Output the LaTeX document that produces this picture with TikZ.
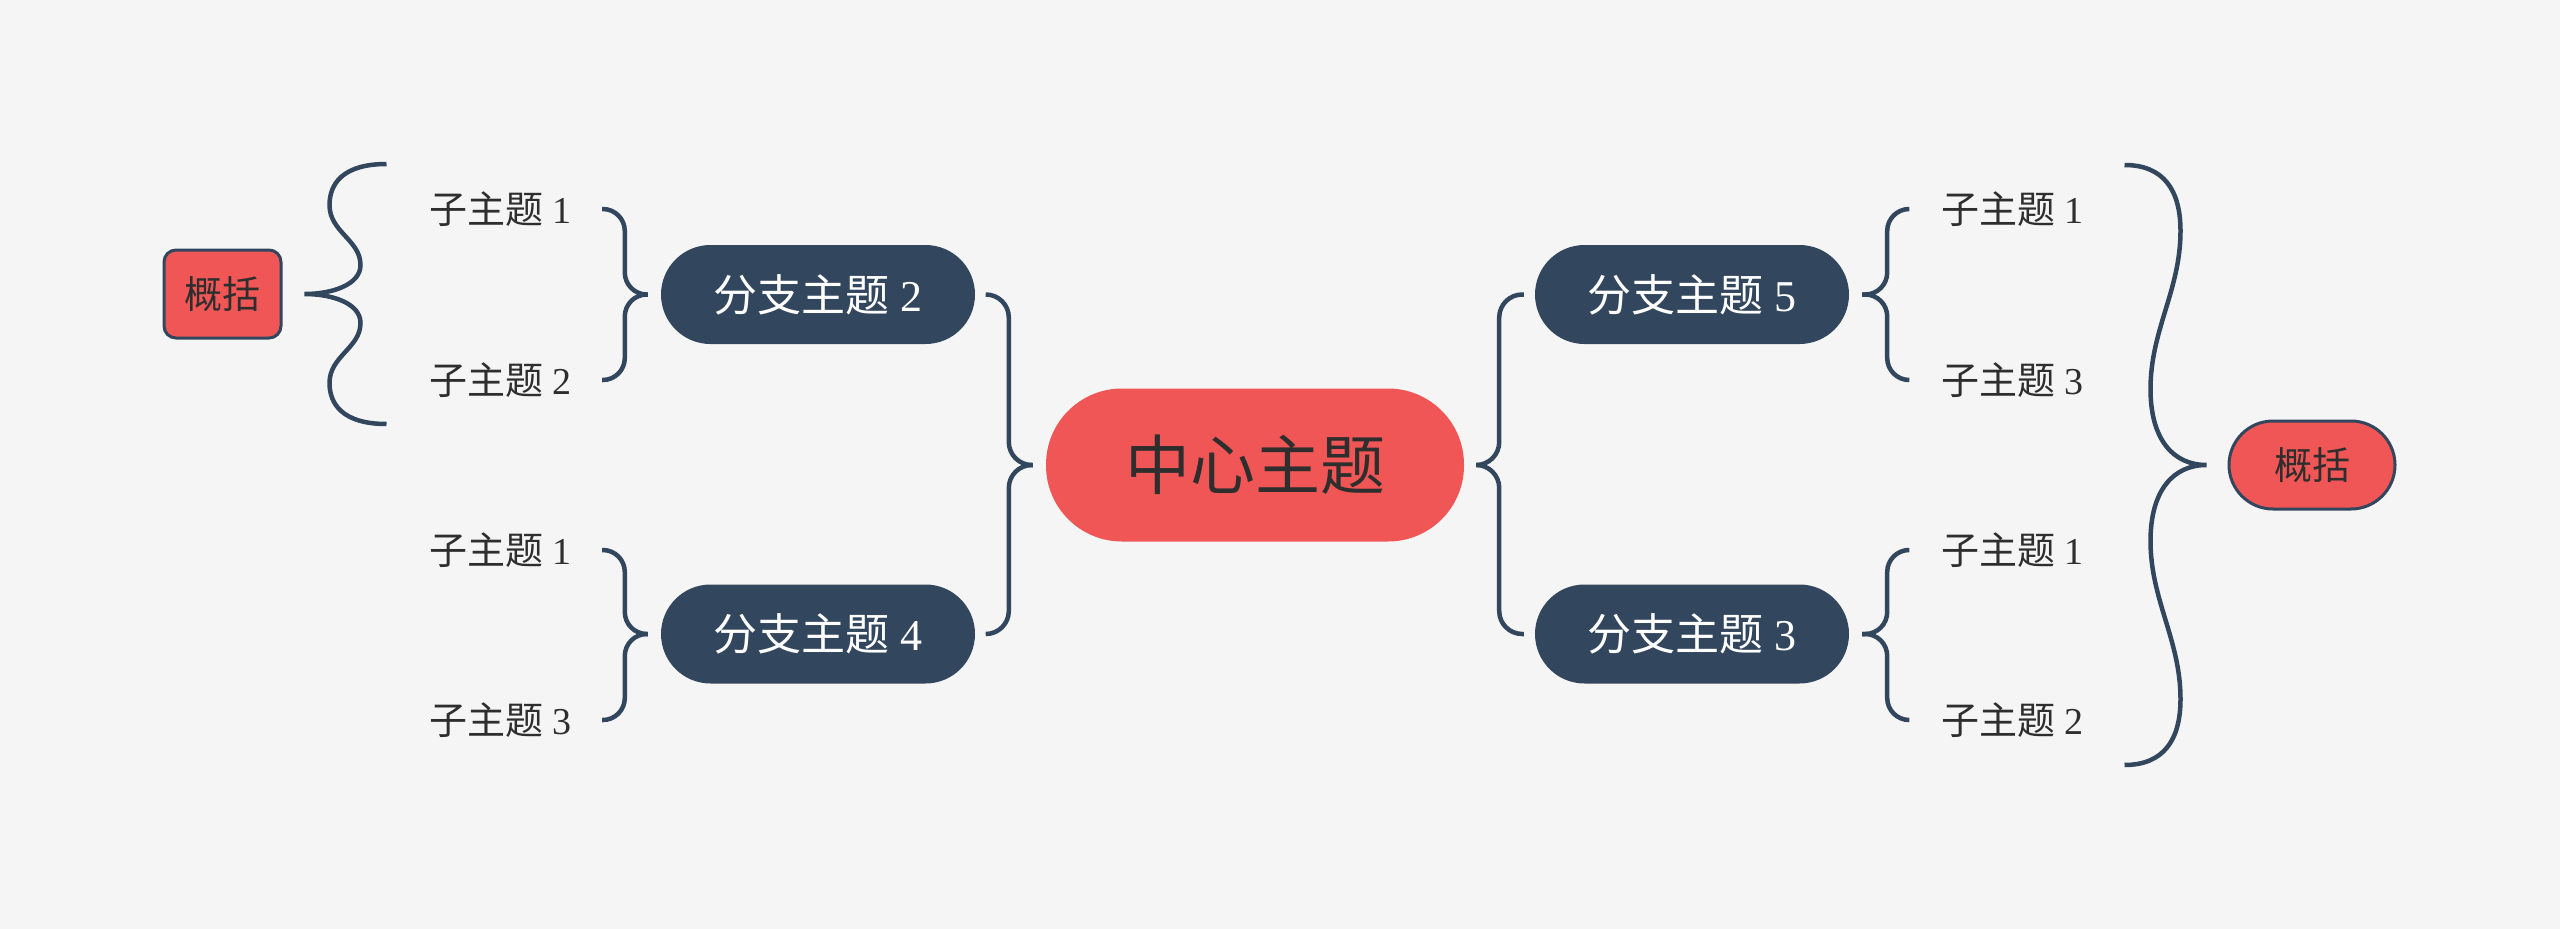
\documentclass[tikz,border=0pt]{standalone}
\usepackage{fontspec}
\setmainfont{Liberation Serif}
\newfontfamily\cjk{Noto Sans CJK SC}
\usetikzlibrary{calc}
\definecolor{bgc}{HTML}{F5F5F5}
\definecolor{redc}{HTML}{F05656}
\definecolor{navy}{HTML}{32475E}
\definecolor{txt}{HTML}{2E2E2E}
\newcommand{\zh}[1]{{\cjk #1}}
\begin{document}
\begin{tikzpicture}[x=1pt,y=-1pt,
  conn/.style={draw=navy,line width=4.5pt},
  branch/.style={fill=navy,text=white,rounded corners=49.5pt,minimum width=314pt,minimum height=99pt,inner sep=0pt,font=\fontsize{44}{48}\selectfont},
  maintopic/.style={fill=redc,text=txt,rounded corners=76pt,minimum width=418pt,minimum height=153pt,inner sep=0pt,font=\fontsize{65}{70}\selectfont},
  subl/.style={text=txt,inner sep=0pt,font=\fontsize{38}{42}\selectfont,anchor=west},
  sumbox/.style={fill=redc,draw=navy,line width=3pt,text=txt,inner sep=0pt,minimum height=88pt,font=\fontsize{38}{42}\selectfont}
  ]
\fill[bgc] (0,0) rectangle (2560,929);
\useasboundingbox (0,0) rectangle (2560,929);

% main and branch topics
\node[maintopic] (c) at (1255,465) {\zh{中心主题}};
\node[branch] (b2) at (818,294.5) {\zh{分支主题} 2};
\node[branch] (b4) at (818,634) {\zh{分支主题} 4};
\node[branch] (b5) at (1692,294.5) {\zh{分支主题} 5};
\node[branch] (b3) at (1692,634) {\zh{分支主题} 3};

% sub topics left
\node[subl] (l1) at (429,209) {\zh{子主题} 1};
\node[subl] (l2) at (429,380) {\zh{子主题} 2};
\node[subl] (l3) at (429,550) {\zh{子主题} 1};
\node[subl] (l4) at (429,720) {\zh{子主题} 3};
% sub topics right
\node[subl] (r1) at (1941,209) {\zh{子主题} 1};
\node[subl] (r2) at (1941,380) {\zh{子主题} 3};
\node[subl] (r3) at (1941,550) {\zh{子主题} 1};
\node[subl] (r4) at (1941,720) {\zh{子主题} 2};

% summaries
\node[sumbox,rounded corners=12pt,minimum width=117pt] (g1) at (222.5,294) {\zh{概括}};
\node[sumbox,rounded corners=44pt,minimum width=166pt] (g2) at (2312,465) {\zh{概括}};

% center connectors
\draw[conn,rounded corners=23pt] ([xshift=11pt]b2.east) -| ($(c.west)+(-37,0)$) -- ([xshift=-13pt]c.west);
\draw[conn,rounded corners=23pt] ([xshift=11pt]b4.east) -| ($(c.west)+(-37,0)$) -- ([xshift=-13pt]c.west);
\draw[conn,rounded corners=23pt] ([xshift=-11pt]b5.west) -| ($(c.east)+(35,0)$) -- ([xshift=12pt]c.east);
\draw[conn,rounded corners=23pt] ([xshift=-11pt]b3.west) -| ($(c.east)+(35,0)$) -- ([xshift=12pt]c.east);

% small braces left
\draw[conn,rounded corners=22pt] ([xshift=173pt]l1.west) -| ($(b2.west)+(-36,0)$) -- ([xshift=-13pt]b2.west);
\draw[conn,rounded corners=22pt] ([xshift=173pt]l2.west) -| ($(b2.west)+(-36,0)$) -- ([xshift=-13pt]b2.west);
\draw[conn,rounded corners=22pt] ([xshift=173pt]l3.west) -| ($(b4.west)+(-36,0)$) -- ([xshift=-13pt]b4.west);
\draw[conn,rounded corners=22pt] ([xshift=173pt]l4.west) -| ($(b4.west)+(-36,0)$) -- ([xshift=-13pt]b4.west);
% small braces right
\draw[conn,rounded corners=22pt] ([xshift=-32pt]r1.west) -| ($(b5.east)+(38,0)$) -- ([xshift=13pt]b5.east);
\draw[conn,rounded corners=22pt] ([xshift=-32pt]r2.west) -| ($(b5.east)+(38,0)$) -- ([xshift=13pt]b5.east);
\draw[conn,rounded corners=22pt] ([xshift=-32pt]r3.west) -| ($(b3.east)+(38,0)$) -- ([xshift=13pt]b3.east);
\draw[conn,rounded corners=22pt] ([xshift=-32pt]r4.west) -| ($(b3.east)+(38,0)$) -- ([xshift=13pt]b3.east);

% big summary braces
\coordinate (lbt) at ([xshift=22pt]g1.east);
\coordinate (rbt) at ([xshift=-21pt]g2.west);
\begin{scope}[shift={(lbt)}]
\draw[conn] (82,-130) .. controls (37,-130) and (25,-109) .. (25,-89)
  .. controls (25,-62) and (56,-54) .. (56,-29)
  .. controls (56,-9) and (27,0) .. (0,0)
  .. controls (27,0) and (56,9) .. (56,29)
  .. controls (56,54) and (25,62) .. (25,89)
  .. controls (25,109) and (37,130) .. (82,130);
\end{scope}
\begin{scope}[shift={(rbt)}]
\draw[conn] (-82,-300) .. controls (-43,-300) and (-26,-275) .. (-26,-234)
  .. controls (-26,-175) and (-56,-135) .. (-56,-76)
  .. controls (-56,-25) and (-33,0) .. (0,0)
  .. controls (-33,0) and (-56,25) .. (-56,76)
  .. controls (-56,135) and (-26,175) .. (-26,234)
  .. controls (-26,275) and (-43,300) .. (-82,300);
\end{scope}
\end{tikzpicture}
\end{document}
